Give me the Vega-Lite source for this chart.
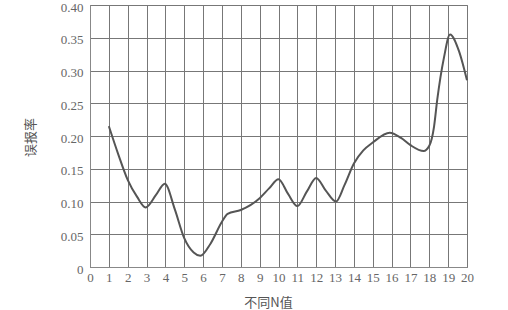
{
  "$schema": "https://vega.github.io/schema/vega-lite/v6.json",
  "autosize": {"type": "none"},
  "padding": {"left": 90, "top": 5, "right": 41, "bottom": 43},
  "width": 377,
  "height": 262,
  "background": "white",
  "view": {"stroke": "#888", "strokeWidth": 1},
  "data": {"values": [
    {"n": 1, "rate": 0.215},
    {"n": 1.5, "rate": 0.172},
    {"n": 2, "rate": 0.133},
    {"n": 2.5, "rate": 0.107},
    {"n": 2.95, "rate": 0.091},
    {"n": 3.5, "rate": 0.11},
    {"n": 3.97, "rate": 0.127},
    {"n": 4.5, "rate": 0.088},
    {"n": 5, "rate": 0.044},
    {"n": 5.5, "rate": 0.022},
    {"n": 5.85, "rate": 0.017},
    {"n": 6.4, "rate": 0.036},
    {"n": 7, "rate": 0.069},
    {"n": 7.3, "rate": 0.081},
    {"n": 8, "rate": 0.087},
    {"n": 9, "rate": 0.105},
    {"n": 9.5, "rate": 0.12},
    {"n": 10, "rate": 0.134},
    {"n": 10.5, "rate": 0.112},
    {"n": 11, "rate": 0.093},
    {"n": 11.5, "rate": 0.115},
    {"n": 12, "rate": 0.136},
    {"n": 12.5, "rate": 0.117},
    {"n": 13.05, "rate": 0.1},
    {"n": 13.5, "rate": 0.125},
    {"n": 14, "rate": 0.158},
    {"n": 14.5, "rate": 0.178},
    {"n": 15, "rate": 0.19},
    {"n": 15.9, "rate": 0.205},
    {"n": 16.5, "rate": 0.197},
    {"n": 17, "rate": 0.186},
    {"n": 17.7, "rate": 0.177},
    {"n": 18, "rate": 0.185},
    {"n": 18.25, "rate": 0.214},
    {"n": 18.42, "rate": 0.255},
    {"n": 18.78, "rate": 0.32},
    {"n": 19.1, "rate": 0.355},
    {"n": 19.57, "rate": 0.33},
    {"n": 20, "rate": 0.285}
  ]},
  "mark": {"type": "line", "interpolate": "monotone", "color": "#555", "strokeWidth": 2},
  "encoding": {
    "x": {
      "field": "n", "type": "quantitative",
      "scale": {"domain": [0, 20], "nice": false},
      "axis": {
        "values": [0,1,2,3,4,5,6,7,8,9,10,11,12,13,14,15,16,17,18,19,20],
        "title": "不同N值",
        "titleFont": "Noto Sans CJK SC", "titleFontSize": 13, "titleFontWeight": "normal", "titleColor": "#555",
        "titleX": 178, "titleY": 35, "titleAlign": "center", "titleBaseline": "middle",
        "labelFont": "Times New Roman", "labelFontSize": 13, "labelColor": "#666",
        "labelPadding": 4, "ticks": false, "domainColor": "#888",
        "gridColor": "#777", "gridOpacity": 1, "gridWidth": 1,
        "labelFlush": false
      }
    },
    "y": {
      "field": "rate", "type": "quantitative",
      "scale": {"domain": [0, 0.4], "nice": false},
      "axis": {
        "values": [0, 0.05, 0.1, 0.15, 0.2, 0.25, 0.3, 0.35, 0.4],
        "labelExpr": "datum.value == 0 ? '0' : format(datum.value, '.2f')",
        "title": "误报率",
        "titleFont": "Noto Sans CJK SC", "titleFontSize": 13, "titleFontWeight": "normal", "titleColor": "#555",
        "titleX": -60, "titleY": 132, "titleAngle": -90, "titleAlign": "center", "titleBaseline": "middle",
        "labelFont": "Times New Roman", "labelFontSize": 13, "labelColor": "#666",
        "labelPadding": 7, "labelOffset": 2, "ticks": false, "domainColor": "#888",
        "gridColor": "#777", "gridOpacity": 1, "gridWidth": 1,
        "labelFlush": false
      }
    }
  }
}
